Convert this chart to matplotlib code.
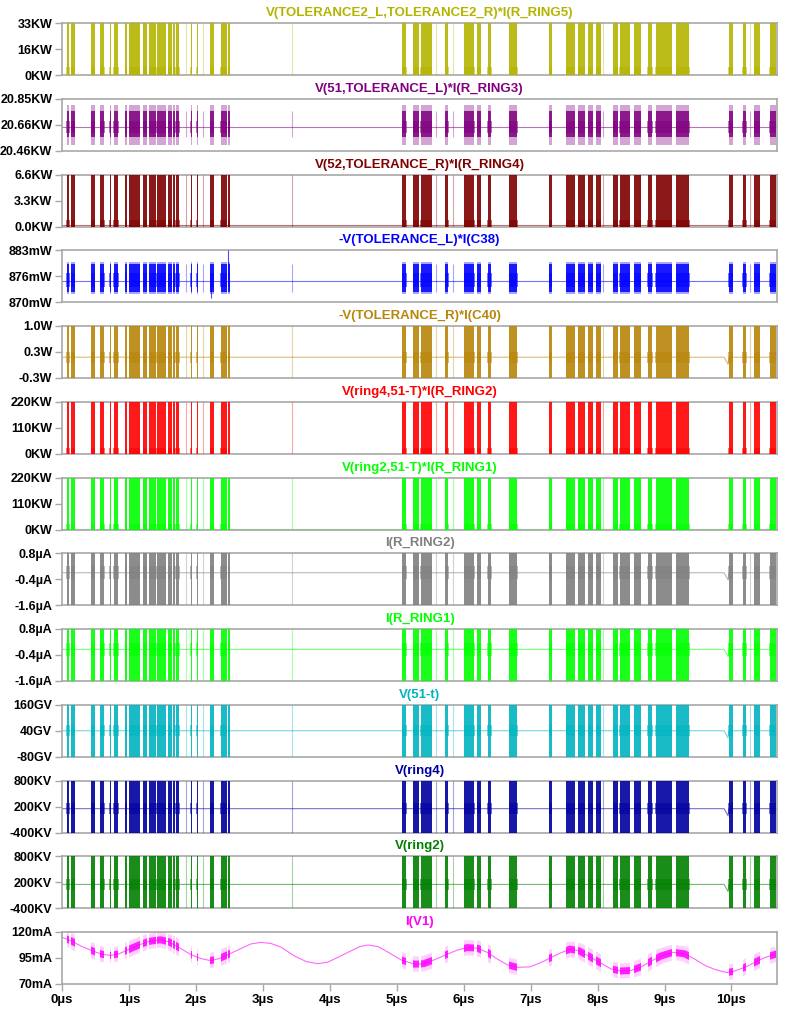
import numpy as np
import matplotlib
matplotlib.use("Agg")
import matplotlib.pyplot as plt
from matplotlib.patches import Rectangle

plt.rcParams['font.family'] = ['Liberation Sans', 'DejaVu Sans']
plt.rcParams['font.weight'] = 'bold'

# ---------------- data ----------------
titles = ['V(TOLERANCE2_L,TOLERANCE2_R)*I(R_RING5)', 'V(51,TOLERANCE_L)*I(R_RING3)',
          'V(52,TOLERANCE_R)*I(R_RING4)', '-V(TOLERANCE_L)*I(C38)', '-V(TOLERANCE_R)*I(C40)',
          'V(ring4,51-T)*I(R_RING2)', 'V(ring2,51-T)*I(R_RING1)', 'I(R_RING2)', 'I(R_RING1)',
          'V(51-t)', 'V(ring4)', 'V(ring2)', 'I(V1)']
colors = ['#B4B400', '#800080', '#800000', '#0000FF', '#B8860B', '#FF0000', '#00FF00',
          '#808080', '#00FF00', '#00B4C0', '#0000A0', '#008000', '#FF00FF']
y_lo = [0, 20.46, 0.0, 870, -0.3, 0, 0, -1.6, -1.6, -80, -400, -400, 70]
y_hi = [33, 20.85, 6.6, 883, 1.0, 220, 220, 0.8, 0.8, 160, 800, 800, 120]
tick_labels = [['0KW', '16KW', '33KW'], ['20.46KW', '20.66KW', '20.85KW'],
               ['0.0KW', '3.3KW', '6.6KW'], ['870mW', '876mW', '883mW'],
               ['-0.3W', '0.3W', '1.0W'], ['0KW', '110KW', '220KW'], ['0KW', '110KW', '220KW'],
               ['-1.6µA', '-0.4µA', '0.8µA'], ['-1.6µA', '-0.4µA', '0.8µA'],
               ['-80GV', '40GV', '160GV'], ['-400KV', '200KV', '800KV'],
               ['-400KV', '200KV', '800KV'], ['70mA', '95mA', '120mA']]
baseline = [0, 20.635, 0.15, 875.4, 0.22, 0.5, 0.5, -0.1, -0.14, 40, 150, 150, None]
burst_lo = [0, 20.56, 0, 872.5, -0.3, 0, 0, -1.6, -1.6, -80, -400, -400, None]
burst_hi = [33, 20.76, 6.6, 879.5, 1.0, 220, 220, 0.8, 0.8, 160, 800, 800, None]
fringe_lo = [0, 20.50, 0, 872.0, -0.3, 0, 0, -1.6, -1.6, -80, -400, -400, None]
fringe_hi = [33, 20.80, 6.6, 880.0, 1.0, 220, 220, 0.8, 0.8, 160, 800, 800, None]
foot_lo = [0, 20.59, 0, 873.8, 0.08, 0, 0, -0.4, -0.45, 15, 20, 20, None]
foot_hi = [5, 20.68, 0.8, 877.2, 0.36, 25, 25, 0.2, 0.15, 65, 280, 280, None]
has_ramp = [False, False, False, False, True, False, False, True, True, True, True, True, False]

# burst intervals (µs), shared by all traces
burst_t0 = [0.07, 0.14, 0.44, 0.57, 0.71, 0.77, 0.94, 1.00, 1.21, 1.30, 1.42, 1.59, 1.66, 1.71,
            1.92, 2.01, 2.21, 2.37, 2.48, 5.08, 5.25, 5.36, 5.72, 6.01, 6.20, 6.36, 6.68,
            7.28, 7.53, 7.71, 7.86, 7.98, 8.23, 8.33, 8.55, 8.75, 8.87, 9.17, 9.96, 10.17,
            10.34, 10.57]
burst_t1 = [0.11, 0.19, 0.49, 0.63, 0.73, 0.84, 0.97, 1.16, 1.27, 1.41, 1.55, 1.64, 1.69, 1.75,
            1.94, 2.03, 2.27, 2.46, 2.51, 5.14, 5.33, 5.52, 5.77, 6.16, 6.26, 6.41, 6.80,
            7.32, 7.66, 7.81, 7.93, 8.05, 8.30, 8.48, 8.65, 8.82, 9.11, 9.37, 10.02, 10.22,
            10.42, 10.66]
faint_spikes = [1.85, 2.11, 3.44, 5.59, 5.84, 8.08, 10.28]

# small baseline dip near 9.9 µs (fraction of axis range relative to baseline)
ramp_t = [0.0, 9.89, 9.95, 9.96, 10.68]
ramp_frac = [0.0, 0.0, -0.14, 0.0, 0.0]

# I(V1) smooth underlying current (mA)
iv1_t = [0.0, 0.12, 0.3, 0.47, 0.6, 0.72, 0.85, 0.97, 1.17, 1.3, 1.47, 1.6, 1.75, 1.92, 2.07,
         2.22, 2.35, 2.47, 2.67, 2.82, 2.97, 3.12, 3.27, 3.47, 3.65, 3.82, 3.97, 4.15, 4.32,
         4.45, 4.57, 4.72, 4.9, 5.07, 5.27, 5.4, 5.55, 5.75, 5.9, 6.05, 6.2, 6.35, 6.49, 6.65,
         6.8, 6.99, 7.15, 7.29, 7.45, 7.59, 7.72, 7.89, 8.05, 8.2, 8.35, 8.5, 8.65, 8.8, 8.95,
         9.13, 9.3, 9.45, 9.6, 9.75, 9.93, 10.02, 10.2, 10.37, 10.5, 10.68]
iv1_v = [115, 112, 106, 101.5, 98.5, 97.5, 99, 102.5, 108, 111, 112.5, 110.5, 105, 98.5, 94.5,
         92.5, 94.5, 98, 104, 108.5, 110, 109, 105.5, 97, 91.5, 89.5, 91, 96.5, 102,
         106, 107.5, 106, 99.5, 93, 89, 89.5, 93, 98.5, 102.5, 105, 104.5, 100.5, 94.5, 88.5,
         86, 86.5, 90.5, 95, 100, 103.5, 102, 96, 90, 84.5, 82.5, 83, 86.5, 92, 97,
         100.5, 99, 94, 88, 84, 81, 82, 86, 91.5, 95.5, 99]

x_ticks = [0, 1, 2, 3, 4, 5, 6, 7, 8, 9, 10]
x_labels = ['0µs', '1µs', '2µs', '3µs', '4µs', '5µs', '6µs', '7µs', '8µs', '9µs', '10µs']
x_max = 10.68

# ---------------- figure ----------------
W, H = 791, 1024
fig = plt.figure(figsize=(W / 100, H / 100), dpi=100)
spine_col = '#A8A8A8'
n = len(titles)
for i in range(n):
    top = 23 + 75.75 * i
    ax = fig.add_axes([62 / W, 1 - (top + 52) / H, 715 / W, 52 / H])
    c = colors[i]
    lo, hi = y_lo[i], y_hi[i]
    ax.set_xlim(0, x_max)
    ax.set_ylim(lo, hi)
    rng = hi - lo
    if i < n - 1:
        # baseline trace
        if has_ramp[i]:
            bv = [baseline[i] + f * rng for f in ramp_frac]
            ax.plot(ramp_t, bv, color=c, lw=0.8, alpha=0.55, zorder=2)
        else:
            ax.plot([0, x_max], [baseline[i], baseline[i]], color=c, lw=0.8, alpha=0.55, zorder=2)
        for t0, t1 in zip(burst_t0, burst_t1):
            ax.fill_between([t0, t1], fringe_lo[i], fringe_hi[i], color=c, alpha=0.35, lw=0, zorder=3)
            ax.fill_between([t0, t1], burst_lo[i], burst_hi[i], color=c, alpha=0.85, lw=0, zorder=4)
            ax.fill_between([t0 - 0.006, t1 + 0.006], foot_lo[i], foot_hi[i], color=c, alpha=0.55,
                            lw=0, zorder=4)
        ax.vlines(faint_spikes, burst_lo[i], burst_hi[i], color=c, lw=0.8, alpha=0.35, zorder=3)
        if i == 3:
            ax.vlines([2.48], 876, 883, color=c, lw=0.8, alpha=0.7, zorder=4)
            ax.vlines([2.22], 871, 875, color=c, lw=0.8, alpha=0.7, zorder=4)
    else:
        ax.plot(iv1_t, iv1_v, color=c, lw=0.8, alpha=0.6, zorder=2)
        for t0, t1 in zip(burst_t0, burst_t1):
            for lw, al in ((11, 0.18), (5, 0.85)):
                ln, = ax.plot(iv1_t, iv1_v, color=c, lw=lw, alpha=al, zorder=3,
                              solid_capstyle='butt')
                ln.set_clip_path(Rectangle((t0, lo), t1 - t0, rng, transform=ax.transData))
    ax.set_yticks([lo, (lo + hi) / 2, hi])
    ax.set_yticklabels(tick_labels[i])
    ax.tick_params(axis='y', length=5, width=1, color=spine_col, labelsize=9, pad=2)
    for lab in ax.get_yticklabels():
        lab.set_fontweight('bold')
    if i == n - 1:
        ax.set_xticks(x_ticks)
        ax.set_xticklabels(x_labels)
        ax.tick_params(axis='x', length=5, width=1, color=spine_col, labelsize=9.5, pad=2)
        for lab in ax.get_xticklabels():
            lab.set_fontweight('bold')
    else:
        ax.set_xticks([])
    for s in ax.spines.values():
        s.set_color(spine_col)
        s.set_linewidth(1.2)
    ax.set_title(titles[i], color=c, fontsize=9.5, fontweight='bold', pad=5)

fig.savefig('out.png', dpi=100)
